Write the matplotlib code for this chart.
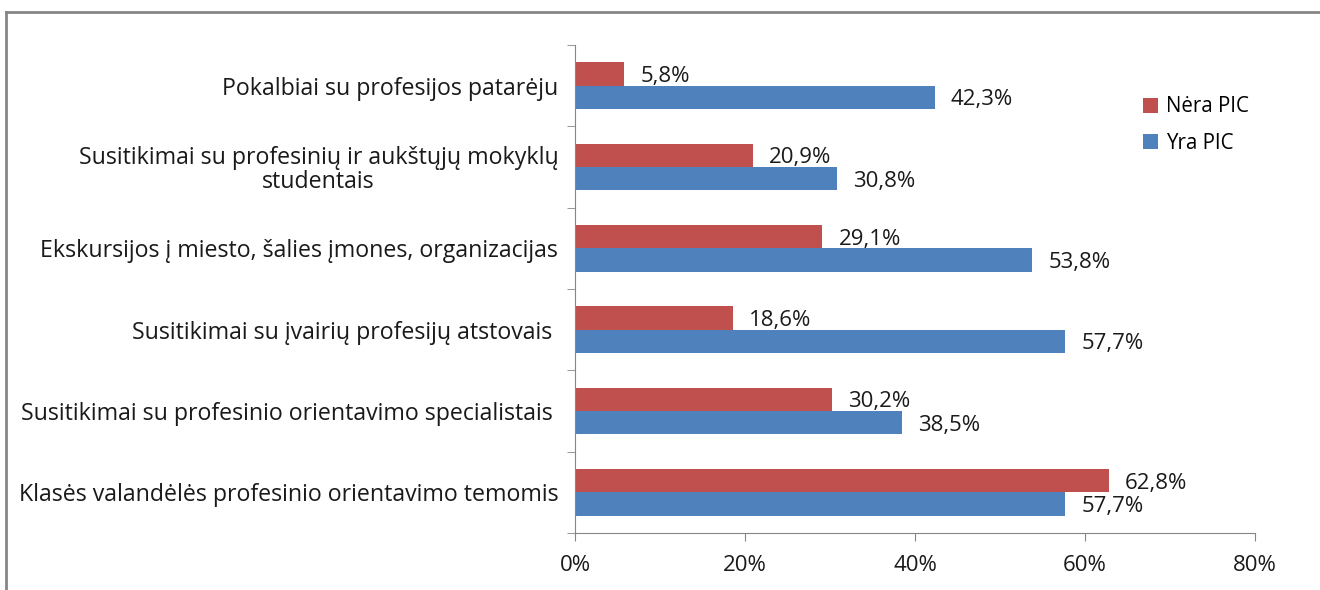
import matplotlib.pyplot as plt
import matplotlib.lines as mlines
import numpy as np

plt.rcParams['font.family'] = ['Open Sans', 'DejaVu Sans']

kategorijos = [
    'Pokalbiai su profesijos patarėju',
    'Susitikimai su profesinių ir aukštųjų mokyklų\nstudentais',
    'Ekskursijos į miesto, šalies įmones, organizacijas',
    'Susitikimai su įvairių profesijų atstovais ',
    'Susitikimai su profesinio orientavimo specialistais ',
    'Klasės valandėlės profesinio orientavimo temomis',
]
nera_pic = [5.8, 20.9, 29.1, 18.6, 30.2, 62.8]
yra_pic = [42.3, 30.8, 53.8, 57.7, 38.5, 57.7]
x_ticks = [0, 20, 40, 60, 80]

raudona = '#C0504D'
melyna = '#4F81BD'
pilka = '#868686'
tekstas = '#1a1a1a'

fig = plt.figure(figsize=(13.2, 5.9), dpi=100)
ax = fig.add_axes([575/1320, 1-533/590, 680/1320, 488/590])

y = np.arange(len(kategorijos))
h = 0.285
ax.barh(y - h/2, nera_pic, height=h, color=raudona, label='Nėra PIC')
ax.barh(y + h/2, yra_pic, height=h, color=melyna, label='Yra PIC')

# reiksmiu etiketes
for i in range(len(kategorijos)):
    ax.text(nera_pic[i] + 1.9, y[i] - h/2 + 0.03, f'{nera_pic[i]:.1f}%'.replace('.', ','),
            va='center', ha='left', fontsize=16, color=tekstas)
    ax.text(yra_pic[i] + 1.9, y[i] + h/2 + 0.03, f'{yra_pic[i]:.1f}%'.replace('.', ','),
            va='center', ha='left', fontsize=16, color=tekstas)

ax.set_xlim(0, 80)
ax.set_ylim(len(kategorijos) - 0.5, -0.5)
ax.set_xticks(x_ticks)
ax.set_xticklabels([f'{v}%' for v in x_ticks], fontsize=16, color=tekstas)
ax.set_yticks(y)
ax.set_yticklabels(kategorijos, fontsize=16.7, color=tekstas, ha='right',
                   multialignment='center', linespacing=1.0)
ax.tick_params(axis='y', length=0, pad=12)

# kategoriju ribu bruksneliai
ax.set_yticks(np.arange(-0.5, len(kategorijos)), minor=True)
ax.tick_params(axis='y', which='minor', length=6, color=pilka, direction='out')
ax.tick_params(axis='x', length=6, color=pilka, direction='out', pad=10)

for s in ['top', 'right']:
    ax.spines[s].set_visible(False)
for s in ['left', 'bottom']:
    ax.spines[s].set_color(pilka)

ax.legend(loc='upper left', bbox_to_anchor=(1124/1320, 1-78/590),
          bbox_transform=fig.transFigure, frameon=False, fontsize=14.8,
          handlelength=0.75, handleheight=0.75, labelspacing=0.75, handletextpad=0.4)

# remelis
fig.add_artist(mlines.Line2D([6/1320, 1], [1-12/590, 1-12/590], color=pilka, lw=2))
fig.add_artist(mlines.Line2D([6/1320, 6/1320], [0, 1-12/590], color=pilka, lw=2))

fig.savefig('out.png', dpi=100)
